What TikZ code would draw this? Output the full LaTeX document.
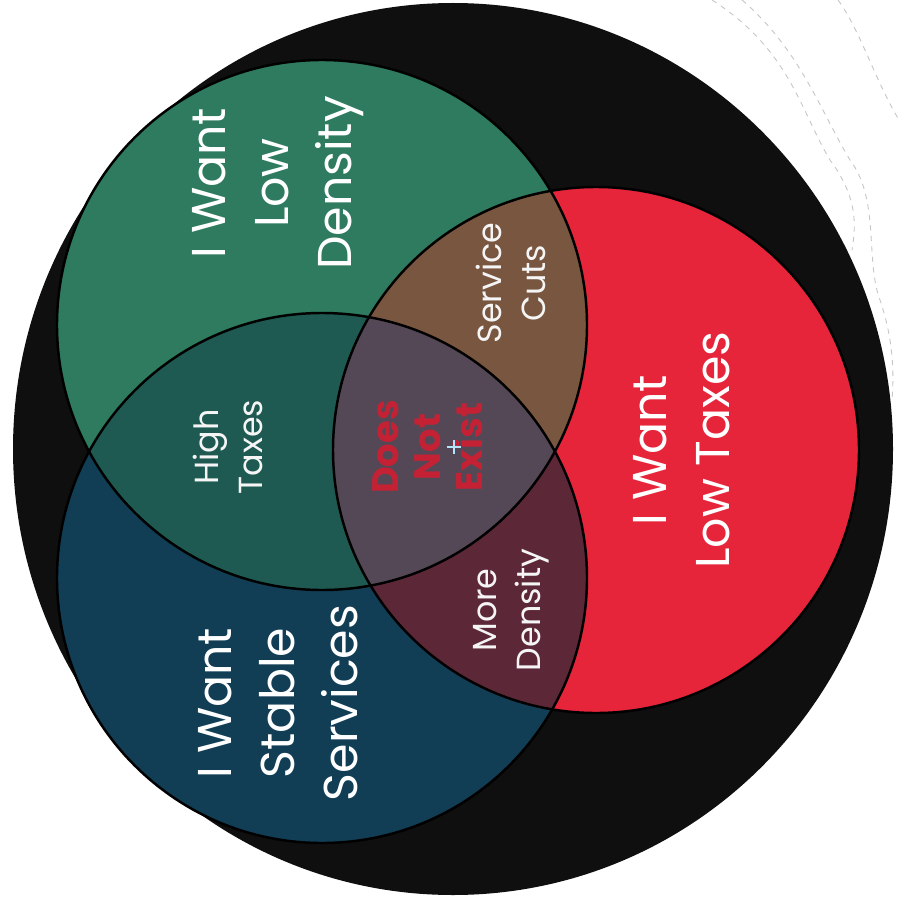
\documentclass[tikz,border=0pt]{standalone}
\usepackage{fontspec}
\setmainfont{Poppins}
\usepackage{tikz}

\definecolor{bgblack}{HTML}{0F0F10}
\definecolor{greenset}{HTML}{2E7B5F}
\definecolor{blueset}{HTML}{113D55}
\definecolor{redset}{HTML}{E6243A}
\definecolor{gbset}{HTML}{1E5A52}
\definecolor{grset}{HTML}{785640}
\definecolor{brset}{HTML}{5C2838}
\definecolor{allset}{HTML}{554856}
\definecolor{nothere}{HTML}{C42234}

\begin{document}
\begin{tikzpicture}[x=0.02cm,y=-0.02cm,
  biglabel/.style={rotate=90,align=center,text=white,font=\fontsize{27}{36}\selectfont},
  smalllabel/.style={rotate=90,align=center,text=white!92!gray,font=\fontsize{19}{25}\selectfont},
  rim/.style={draw=black,line width=1.4pt},
  scan/.style={draw=gray!45,dashed,line width=0.5pt}]
\useasboundingbox (0,0) rectangle (899,909);
\fill[white] (0,0) rectangle (899,909);
\draw[scan] (712,0) .. controls (790,50) and (800,110) .. (830,160) .. controls (860,200) and (855,230) .. (852,250);
\draw[scan] (742,0) .. controls (800,50) and (820,110) .. (850,160) .. controls (880,200) and (865,260) .. (880,300) .. controls (890,330) and (895,360) .. (892,400);
\draw[scan] (838,0) .. controls (860,30) and (875,80) .. (899,120);
\coordinate (gc) at (322,325);
\coordinate (bc) at (322,578);
\coordinate (rc) at (596,450);
\fill[bgblack] (453,449) ellipse [x radius=440,y radius=446];
\fill[greenset] (gc) circle[radius=265];
\fill[blueset] (bc) circle[radius=265];
\fill[redset] (rc) circle[radius=263];
\begin{scope}
\clip (gc) circle[radius=265];
\fill[gbset] (bc) circle[radius=265];
\fill[grset] (rc) circle[radius=263];
\end{scope}
\begin{scope}
\clip (bc) circle[radius=265];
\fill[brset] (rc) circle[radius=263];
\clip (gc) circle[radius=265];
\fill[allset] (rc) circle[radius=263];
\end{scope}
\draw[rim] (gc) circle[radius=265];
\draw[rim] (bc) circle[radius=265];
\draw[rim] (rc) circle[radius=263];
\node[biglabel] (lowdensity) at (278,183) {I Want\\Low\\Density};
\node[biglabel] (lowtaxes) at (682,450) {I Want\\Low Taxes};
\node[biglabel] (stable) at (278,703) {I Want\\Stable\\Services};
\node[smalllabel] (hightaxes) at (228,447) {High\\Taxes};
\node[smalllabel] (cuts) at (511,283) {Service\\Cuts};
\node[smalllabel] (moredensity) at (511,610) {More\\Density};
\node[rotate=90,align=center,text=nothere,font=\fontsize{21}{24}\selectfont\bfseries] (noexist) at (428,447) {Does\\Not\\Exist};
\draw[white!70!cyan,line width=0.8pt] (447,447) -- (461,447) (454,440) -- (454,454);
\end{tikzpicture}
\end{document}
